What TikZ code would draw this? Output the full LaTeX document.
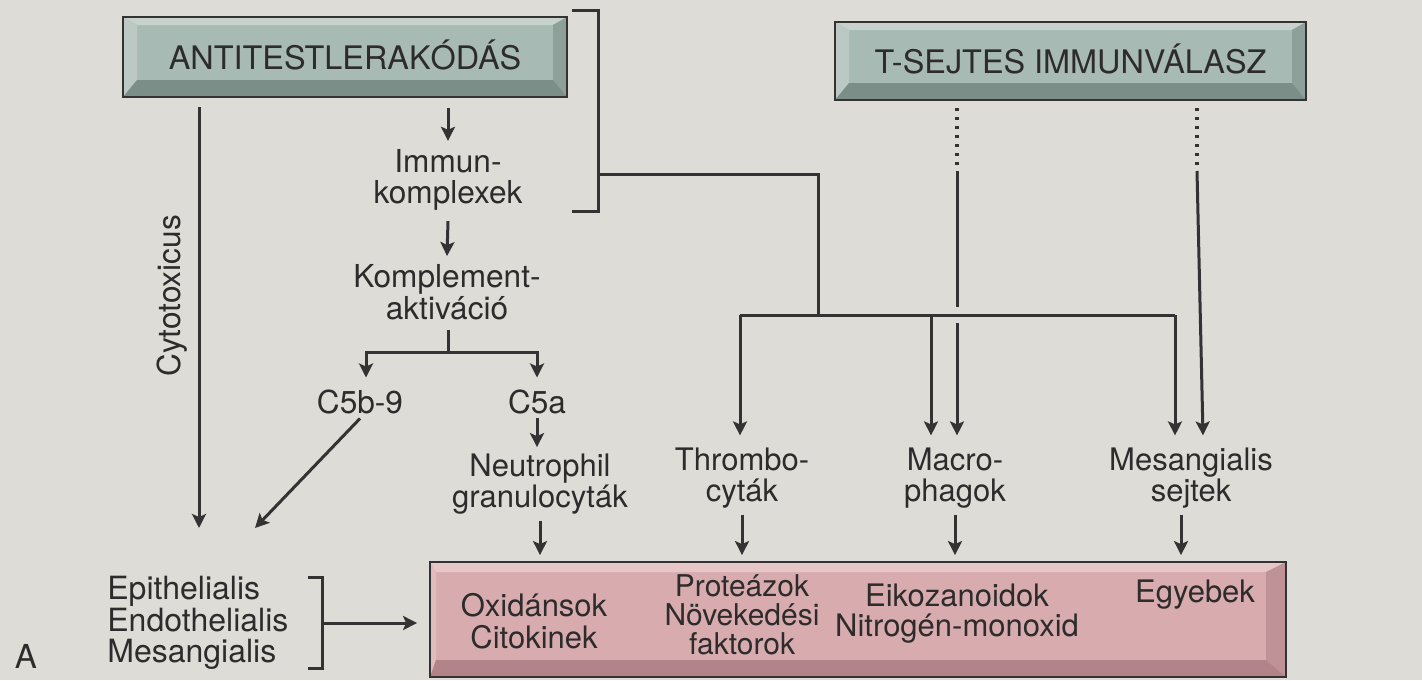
\documentclass[tikz,border=0pt]{standalone}
\usepackage{fontspec}
\setmainfont{TeX Gyre Heros}
\usetikzlibrary{arrows.meta,calc}
\definecolor{bg}{RGB}{222,220,214}
\definecolor{lc}{RGB}{52,50,50}
\definecolor{tc}{RGB}{45,43,43}
\definecolor{gface}{RGB}{168,186,180}
\definecolor{gtop}{RGB}{200,210,205}
\definecolor{gleft}{RGB}{188,200,195}
\definecolor{gright}{RGB}{142,160,154}
\definecolor{gbot}{RGB}{124,142,136}
\definecolor{pface}{RGB}{216,172,174}
\definecolor{ptop}{RGB}{230,198,198}
\definecolor{pleft}{RGB}{224,188,189}
\definecolor{pright}{RGB}{190,146,150}
\definecolor{pbot}{RGB}{178,132,137}
\tikzset{
  bevelbox/.style n args={9}{fill=#1, draw=lc, line width=0.9pt, inner sep=0pt,
    path picture={
      \path (path picture bounding box.north west) coordinate (@nw)
            (path picture bounding box.north east) coordinate (@ne)
            (path picture bounding box.south west) coordinate (@sw)
            (path picture bounding box.south east) coordinate (@se);
      \fill[#2] (@nw) -- (@ne) -- ([xshift=-#8,yshift=-#7]@ne) -- ([xshift=#6,yshift=-#7]@nw) -- cycle;
      \fill[#3] (@nw) -- ([xshift=#6,yshift=-#7]@nw) -- ([xshift=#6,yshift=#9]@sw) -- (@sw) -- cycle;
      \fill[#4] (@ne) -- (@se) -- ([xshift=-#8,yshift=#9]@se) -- ([xshift=-#8,yshift=-#7]@ne) -- cycle;
      \fill[#5] (@sw) -- (@se) -- ([xshift=-#8,yshift=#9]@se) -- ([xshift=#6,yshift=#9]@sw) -- cycle;
    }},
  gbox/.style={bevelbox={gface}{gtop}{gleft}{gright}{gbot}{7pt}{4pt}{7pt}{8.5pt}, text=tc, font=\fontsize{16.2}{16.2}\selectfont},
  pbox/.style={bevelbox={pface}{ptop}{pleft}{pright}{pbot}{3pt}{5pt}{10pt}{8.5pt}},
  txt/.style={inner sep=0pt, align=center, text=tc},
  ln/.style={draw=lc, line width=1.5pt},
  arr/.style={ln, -{Stealth[length=7pt,width=7pt,inset=1.5pt]}},
  dots/.style={draw=lc, line width=1.6pt, dash pattern=on 1.6pt off 2.9pt}
}
\begin{document}
\begin{tikzpicture}[x=0.5pt,y=-0.5pt, font=\fontsize{15.8}{15.8}\selectfont]
\fill[bg] (0,0) rectangle (1422,680);
\useasboundingbox (0,0) rectangle (1422,680);

% boxes
\node[gbox, minimum width=222pt, minimum height=40pt] (abox) at (345,57) {\raisebox{2pt}{ANTITESTLERAKÓDÁS}};
\node[gbox, minimum width=235.5pt, minimum height=39pt] (tbox) at (1070.5,61) {\raisebox{2pt}{T-SEJTES IMMUNVÁLASZ}};
\node[pbox, minimum width=428pt, minimum height=57.5pt] (out) at (858,619.5) {};

% texts in bottom box
\node[txt, font=\fontsize{15.5}{16}\selectfont] (ox) at (534,621) {Oxidánsok\\Citokinek};
\node[txt, font=\fontsize{15}{14.5}\selectfont] (pr) at (742,615) {Proteázok\\Növekedési\\faktorok};
\node[txt, font=\fontsize{15.5}{15}\selectfont] (ei) at (957,614) {Eikozanoidok\\Nitrogén-monoxid};
\node[txt, font=\fontsize{15.5}{15.5}\selectfont] (eg) at (1195,595) {Egyebek};

% left column texts
\node[txt] (immun) at (448,180) {Immun-\\komplexek};
\node[txt] (kompl) at (447,292) {Komplement-\\aktiváció};
\node[txt] (c5b) at (360,402) {C5b-9};
\node[txt] (c5a) at (537,402) {C5a};
\node[txt, font=\fontsize{15.5}{15.8}\selectfont] (neut) at (540,484) {Neutrophil\\granulocyták};
\node[txt, rotate=90] (cyto) at (172,296) {Cytotoxicus};
\node[txt, align=left, anchor=west, font=\fontsize{16}{15.8}\selectfont] (cells) at (107,623) {Epithelialis\\Endothelialis\\Mesangialis};
\node[txt, font=\fontsize{16.5}{16.5}\selectfont] (lblA) at (26,656) {A};

% right column texts
\node[txt, font=\fontsize{15.5}{15.5}\selectfont] (thr) at (742,478) {Thrombo-\\cyták};
\node[txt, font=\fontsize{15.5}{15.5}\selectfont] (mac) at (955,478) {Macro-\\phagok};
\node[txt, font=\fontsize{15.5}{15.5}\selectfont] (mes) at (1191,478) {Mesangialis\\sejtek};

% coordinates
\coordinate (cyt1) at (199,107);
\coordinate (cyt2) at (199,528);
\coordinate (diag2) at (255,528);
\coordinate (kj) at (448,352);
\coordinate (br1) at (572,10);
\coordinate (br2) at (598,10);
\coordinate (br3) at (598,211);
\coordinate (br4) at (572,211);
\coordinate (brm) at (598,174);
\coordinate (brd) at (818,174);
\coordinate (hj) at (818,315);
\coordinate (hl) at (740,315);
\coordinate (hm) at (931,315);
\coordinate (hr) at (1175,315);
\coordinate (cb1) at (308,577);
\coordinate (cb2) at (322,577);
\coordinate (cb3) at (322,668);
\coordinate (cb4) at (308,668);
\coordinate (cbm) at (322,623);

% left connectors
\draw[arr] (cyt1) -- (cyt2);
\draw[arr] ([yshift=-5pt]abox.south -| immun.north) -- ([yshift=4pt]immun.north);
\draw[arr] ([yshift=-5pt]immun.south) -- ([yshift=4pt]kompl.north);
\draw[ln] ([yshift=-5pt]kompl.south -| kj) -- (kj);
\draw[arr] (kj) -| ([xshift=3pt,yshift=6pt]c5b.north);
\draw[arr] (kj) -| ([yshift=6pt]c5a.north);
\draw[arr] ([yshift=-2pt]c5a.south) -- ([yshift=3pt]neut.north -| c5a.south);
\draw[arr] ([yshift=-2pt]c5b.south) -- (diag2);
\draw[arr] ([yshift=-3pt]neut.south) -- ([yshift=3pt]neut.south |- out.north);

% cell bracket
\draw[ln] (cb1) -- (cb2) -- (cb3) -- (cb4);
\draw[arr] (cbm) -- ([xshift=-6pt]out.west |- cbm);

% immune-complex bracket
\draw[ln] (br1) -- (br2) -- (br3) -- (br4);
\draw[ln] (brm) -- (brd) -- (hj);
\draw[ln] (hl) -- (hr);
\draw[arr] (hl) -- ([yshift=6pt]thr.north -| hl);
\draw[arr] (hm) -- ([yshift=6pt]mac.north -| hm);
\draw[arr] (hr) -- ([yshift=6pt]mes.north -| hr);

% T-cell lines
\coordinate (t1a) at (957,108);
\coordinate (t1b) at (957,166);
\coordinate (t1c) at (957,171);
\coordinate (t1d) at (957,307);
\coordinate (t1e) at (957,323);
\coordinate (t2a) at (1197,108);
\coordinate (t2b) at (1197,166);
\coordinate (t2c) at (1197,171);
\draw[dots] (t1a) -- (t1b);
\draw[ln] (t1c) -- (t1d);
\draw[arr] (t1e) -- ([yshift=6pt]mac.north -| t1e);
\draw[dots] (t2a) -- (t2b);
\draw[arr] (t2c) -- ([xshift=3pt,yshift=6pt]mes.north -| t2c);

% arrows into the result box
\draw[arr] ([yshift=-3pt]thr.south) -- ([yshift=3pt]thr.south |- out.north);
\draw[arr] ([yshift=-3pt]mac.south) -- ([yshift=3pt]mac.south |- out.north);
\draw[arr] ([xshift=-5pt,yshift=-3pt]mes.south) -- ([xshift=-5pt,yshift=3pt]mes.south |- out.north);
\end{tikzpicture}
\end{document}
